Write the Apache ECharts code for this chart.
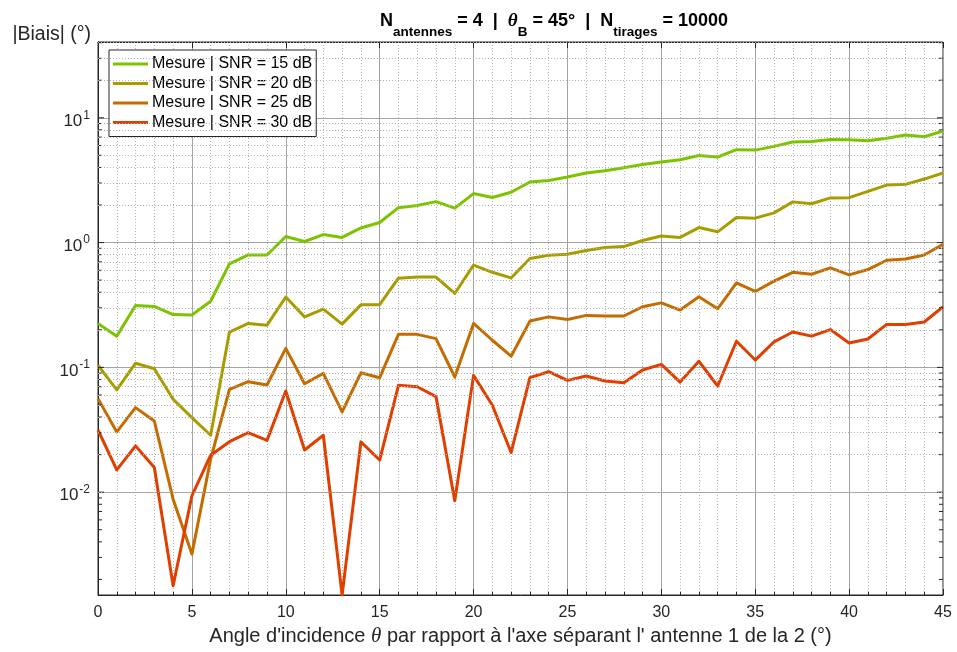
<!DOCTYPE html>
<html>
<head>
<meta charset="utf-8">
<script src="https://cdn.jsdelivr.net/npm/echarts@6/dist/echarts.min.js"></script>
<style>
  html, body { margin: 0; padding: 0; background: #fff; }
  #chart { width: 957px; height: 652px; }
</style>
</head>
<body>
<div id="chart"></div>
<script>
// Incidence angle (degrees)
const angles = Array.from({ length: 46 }, (_, i) => i);

// |Bias| (degrees) measured for each SNR
const snr15 = [0.225, 0.178, 0.313, 0.308, 0.265, 0.263, 0.339, 0.676, 0.796, 0.796,
  1.12, 1.02, 1.16, 1.10, 1.31, 1.45, 1.905, 1.98, 2.13, 1.89,
  2.47, 2.30, 2.53, 3.06, 3.15, 3.35, 3.61, 3.77, 3.98, 4.23,
  4.42, 4.61, 4.99, 4.85, 5.55, 5.51, 5.90, 6.39, 6.47, 6.71,
  6.67, 6.55, 6.87, 7.27, 7.05, 7.82];
const snr20 = [0.104, 0.066, 0.108, 0.0976, 0.0555, 0.0396, 0.0286, 0.192, 0.225, 0.218,
  0.366, 0.254, 0.293, 0.222, 0.317, 0.318, 0.519, 0.529, 0.529, 0.391,
  0.659, 0.578, 0.521, 0.745, 0.792, 0.807, 0.863, 0.912, 0.929, 1.04,
  1.13, 1.10, 1.32, 1.22, 1.59, 1.57, 1.73, 2.12, 2.05, 2.28,
  2.29, 2.57, 2.89, 2.93, 3.23, 3.61];
const snr25 = [0.0562, 0.0304, 0.0476, 0.0372, 0.00879, 0.00319, 0.0184, 0.0667, 0.0768, 0.0722,
  0.142, 0.074, 0.0895, 0.044, 0.0906, 0.0827, 0.184, 0.184, 0.17, 0.0837,
  0.225, 0.165, 0.123, 0.235, 0.254, 0.242, 0.261, 0.258, 0.258, 0.306,
  0.329, 0.288, 0.368, 0.295, 0.476, 0.406, 0.491, 0.578, 0.558, 0.627,
  0.551, 0.608, 0.722, 0.74, 0.796, 0.969];
const snr30 = [0.0315, 0.0151, 0.0235, 0.0158, 0.00178, 0.00935, 0.0198, 0.0254, 0.030, 0.026,
  0.0647, 0.0218, 0.0286, 0.0015, 0.0253, 0.0181, 0.0718, 0.070, 0.0583, 0.00853,
  0.0863, 0.0497, 0.0208, 0.0827, 0.0923, 0.0787, 0.0853, 0.0778, 0.0754, 0.0952,
  0.1057, 0.0763, 0.112, 0.0709, 0.162, 0.1145, 0.16, 0.192, 0.178, 0.201,
  0.157, 0.169, 0.221, 0.221, 0.231, 0.306];

const seriesNames = ['Mesure | SNR = 15 dB', 'Mesure | SNR = 20 dB', 'Mesure | SNR = 25 dB', 'Mesure | SNR = 30 dB'];
const seriesColors = ['#7cc400', '#a99c00', '#c56c00', '#e03f00'];
const seriesData = [snr15, snr20, snr25, snr30];

// y-axis range, decades and the minor log levels (2..9 per decade)
const yMin = 0.0015, yMax = 40.5;
const decades = [0.01, 0.1, 1, 10];
const minorLevels = [];
for (let e = -3; e <= 1; e++) {
  for (let m = 2; m <= 9; m++) {
    const v = m * Math.pow(10, e);
    if (v > yMin && v < yMax) minorLevels.push(+v.toPrecision(3));
  }
}

const FONT = '"Liberation Sans", Arial, Helvetica, sans-serif';
const SERIF = '"Liberation Serif", "DejaVu Serif", serif';
const AX = '#262626';

function decadeLabel(v) {
  const l = Math.log10(v);
  const k = Math.round(l);
  if (Math.abs(l - k) > 1e-6) return '';
  return '{b|10}{s|' + k + '}';
}

// inward y ticks on both sides of the box: long at decades, short at minor levels
const yTicks = decades.map(v => [v, 6]).concat(minorLevels.map(v => [v, 4]));
function renderYTick(params, api) {
  const y = api.coord([0, api.value(0)])[1];
  const len = api.value(1);
  const cs = params.coordSys;
  const style = { stroke: AX, lineWidth: 1 };
  return {
    type: 'group',
    children: [
      { type: 'line', shape: { x1: cs.x, y1: y, x2: cs.x + len, y2: y }, style },
      { type: 'line', shape: { x1: cs.x + cs.width, y1: y, x2: cs.x + cs.width - len, y2: y }, style }
    ]
  };
}

const chart = echarts.init(document.getElementById('chart'), null, { renderer: 'canvas' });

const lines = seriesData.map((d, i) => ({
  name: seriesNames[i],
  type: 'line',
  data: angles.map((a, j) => [a, d[j]]),
  showSymbol: false,
  symbol: 'none',
  z: 3,
  lineStyle: { color: seriesColors[i], width: 3, join: 'round' },
  itemStyle: { color: seriesColors[i] },
  emphasis: { disabled: true }
}));

chart.setOption({
  animation: false,
  backgroundColor: '#ffffff',
  title: {
    text: '{n|N}{sub|antennes}{n| = 4  |  }{t|θ}{sub|B}{n| = 45°  |  N}{sub|tirages}{n| = 10000}',
    left: 549,
    textAlign: 'center',
    top: 11,
    textStyle: {
      rich: {
        n: { fontFamily: FONT, fontWeight: 'bold', fontSize: 18, color: '#000', lineHeight: 20, padding: [0, 0, 10, 0] },
        t: { fontFamily: SERIF, fontStyle: 'italic', fontSize: 19, color: '#000', lineHeight: 20, padding: [0, 0, 10, 0] },
        sub: { fontFamily: FONT, fontWeight: 'bold', fontSize: 13.5, color: '#000', lineHeight: 14, padding: [14, 0, 2, 0] }
      }
    }
  },
  legend: {
    orient: 'vertical',
    left: 109,
    top: 50,
    padding: [6, 4, 6, 4],
    itemGap: 3.5,
    itemWidth: 35,
    itemHeight: 3,
    icon: 'rect',
    backgroundColor: '#ffffff',
    borderColor: AX,
    borderWidth: 1,
    borderRadius: 0,
    selectedMode: false,
    textStyle: { fontFamily: FONT, fontSize: 16, color: '#000', lineHeight: 16, padding: [0, 0, 0, -1] },
    data: seriesNames
  },
  grid: {
    left: 98, right: 14, top: 42, bottom: 56,
    show: true, borderColor: AX, borderWidth: 1, backgroundColor: 'transparent'
  },
  xAxis: [{
    type: 'value',
    min: 0, max: 45, interval: 5,
    name: "Angle d'incidence {t|θ} par rapport à l'axe séparant l' antenne 1 de la 2 (°)",
    nameLocation: 'middle',
    nameGap: 31,
    nameTextStyle: {
      fontFamily: FONT, fontSize: 20, color: AX,
      rich: { t: { fontFamily: SERIF, fontStyle: 'italic', fontSize: 21, color: AX } }
    },
    axisLine: { show: true, lineStyle: { color: AX, width: 1 } },
    axisTick: { show: true, inside: true, length: 6, lineStyle: { color: AX } },
    minorTick: { show: true, splitNumber: 5, length: 3, lineStyle: { color: AX } },
    axisLabel: { fontFamily: FONT, fontSize: 16, color: AX, margin: 10 },
    splitLine: { show: true, lineStyle: { color: '#a3a3a3', width: 1 } },
    minorSplitLine: { show: true, lineStyle: { color: '#b3b3b3', width: 1, type: [1, 2] } }
  }, {
    type: 'value',
    position: 'top',
    min: 0, max: 45, interval: 5,
    axisLine: { show: true, lineStyle: { color: AX, width: 1 } },
    axisTick: { show: true, inside: true, length: 6, lineStyle: { color: AX } },
    axisLabel: { show: false },
    splitLine: { show: false }
  }],
  yAxis: [{
    type: 'log',
    logBase: 10,
    min: yMin, max: yMax,
    name: '|Biais| (°)',
    nameLocation: 'end',
    nameGap: -3,
    nameTextStyle: { fontFamily: FONT, fontSize: 19.5, color: AX, align: 'right', verticalAlign: 'bottom', padding: [0, 7, 0, 0] },
    axisLine: { show: true, lineStyle: { color: AX, width: 1 } },
    axisTick: { show: false },
    axisLabel: {
      showMinLabel: false, showMaxLabel: false,
      margin: 8,
      formatter: decadeLabel,
      rich: {
        b: { fontFamily: FONT, fontSize: 17, color: AX, lineHeight: 20, padding: [7, 0, 0, 0] },
        s: { fontFamily: FONT, fontSize: 12, color: AX, lineHeight: 12, padding: [5, 0, 10, 1] }
      }
    },
    splitLine: { show: true, lineStyle: { color: '#a3a3a3', width: 1 } }
  }, {
    type: 'log',
    logBase: 10,
    min: yMin, max: yMax,
    position: 'right',
    axisLine: { show: true, lineStyle: { color: AX, width: 1 } },
    axisTick: { show: false },
    axisLabel: { show: false },
    splitLine: { show: false }
  }],
  series: [{
    name: 'minor-grid',
    type: 'line',
    data: [],
    z: 1,
    silent: true,
    markLine: {
      silent: true,
      symbol: 'none',
      label: { show: false },
      animation: false,
      lineStyle: { color: '#b3b3b3', width: 1, type: [1, 2] },
      emphasis: { disabled: true },
      data: minorLevels.map(v => ({ yAxis: v }))
    }
  }, {
    name: 'y-ticks',
    type: 'custom',
    data: yTicks,
    z: 4,
    silent: true,
    clip: false,
    renderItem: renderYTick
  }].concat(lines)
});
</script>
</body>
</html>
